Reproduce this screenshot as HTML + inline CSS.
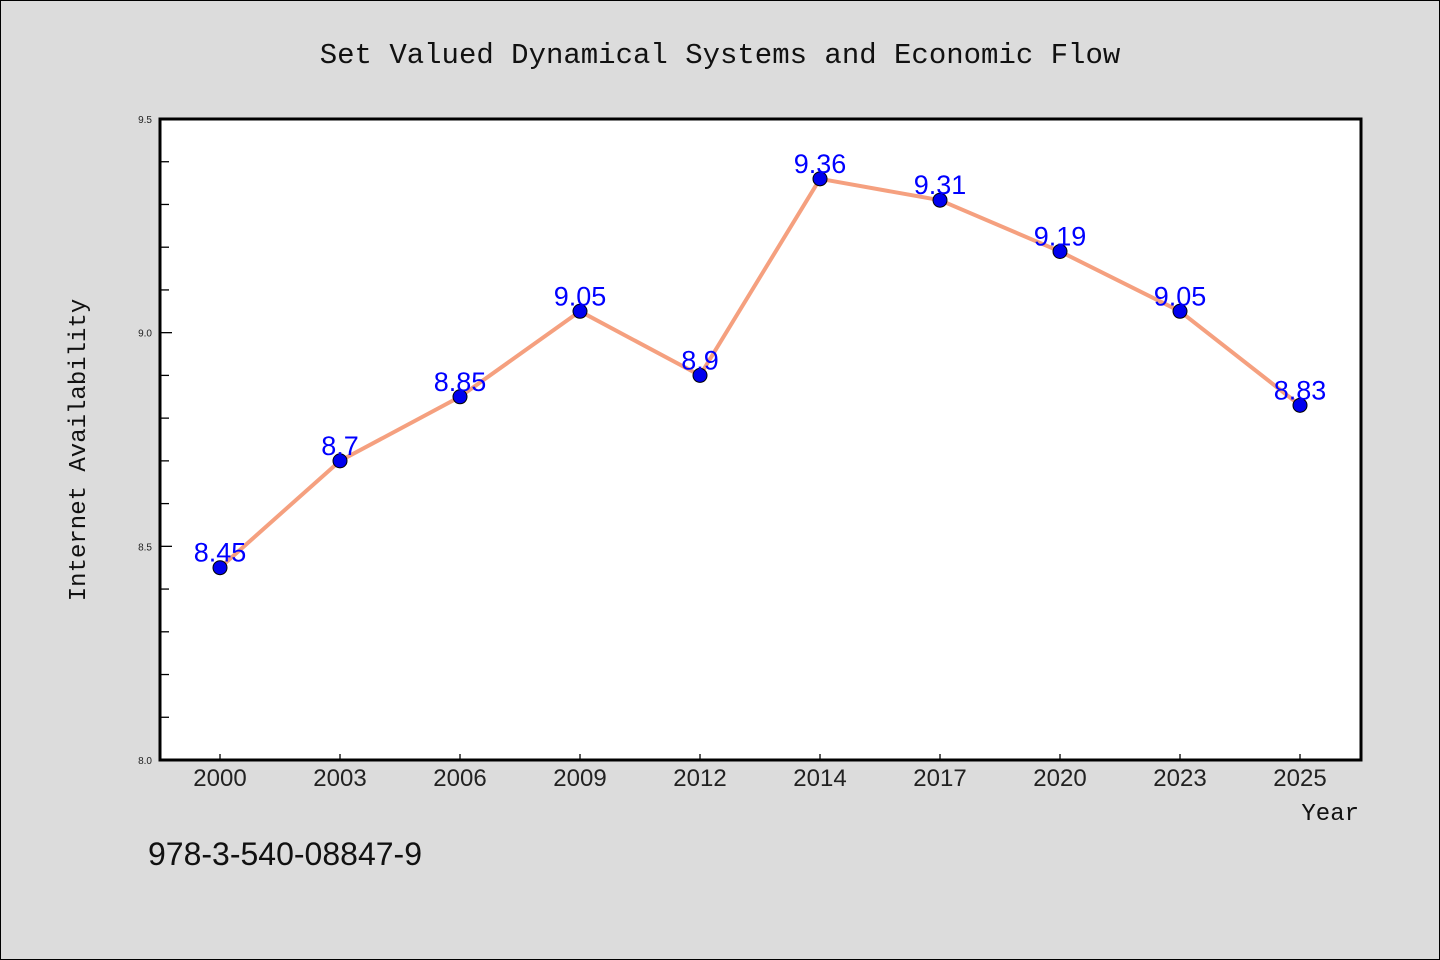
<!DOCTYPE html>
<html><head><meta charset="utf-8"><style>
html,body{margin:0;padding:0;background:#dcdcdc;}
svg{display:block;}
</style></head><body>
<svg width="1440" height="960" xmlns="http://www.w3.org/2000/svg">
<rect x="0.5" y="0.5" width="1439" height="959" fill="#dcdcdc" stroke="#000"/>
<text x="720" y="63" text-anchor="middle" font-family="'Liberation Mono','WenQuanYi Zen Hei',monospace" font-size="29" fill="#111">Set Valued Dynamical Systems and Economic Flow</text>
<rect x="160" y="119" width="1201" height="641" fill="#fff"/>
<g id="axes"></g>
<g id="series"></g>
<path d="M160,119 V760 H1361 V119 Z" fill="none" stroke="#000" stroke-width="3"/>
<text x="85" y="450" transform="rotate(-90 85 450)" text-anchor="middle" font-family="'Liberation Mono','WenQuanYi Zen Hei',monospace" font-size="24" fill="#111">Internet Availability</text>
<text x="1359" y="820" text-anchor="end" font-family="'Liberation Mono','WenQuanYi Zen Hei',monospace" font-size="24" fill="#111">Year</text>
<text x="148" y="865" font-family="'Liberation Sans',sans-serif" font-size="32" fill="#111">978-3-540-08847-9</text>
</svg>
<script>
const categories = ["2000","2003","2006","2009","2012","2014","2017","2020","2023","2025"];
const values = [8.45,8.7,8.85,9.05,8.9,9.36,9.31,9.19,9.05,8.83];
const labels = ["8.45","8.7","8.85","9.05","8.9","9.36","9.31","9.19","9.05","8.83"];
const yTicks = ["8.0","8.5","9.0","9.5"];
const NS="http://www.w3.org/2000/svg";
const L=160,R=1361,T=119,B=760,ymin=8.0,ymax=9.5;
const xs=i=>L+60+i*120;
const ys=v=>B-(v-ymin)/(ymax-ymin)*(B-T);
function mk(tag,attrs,parent){const e=document.createElementNS(NS,tag);for(const k in attrs)e.setAttribute(k,attrs[k]);parent.appendChild(e);return e;}
const ax=document.getElementById('axes'),se=document.getElementById('series');
for(let k=0;k<=15;k++){const v=ymin+k*0.1;const y=ys(v);const major=k%5===0;
 const t=mk('line',{x1:L,x2:L+(major?12:9),y1:y,y2:y,stroke:'#000','stroke-width':1.3},ax);
 
 }
yTicks.forEach(s=>{const t=mk('text',{x:152,y:ys(parseFloat(s))+4,'text-anchor':'end','font-family':"'Liberation Sans',sans-serif",'font-size':10,fill:'#222'},ax);t.textContent=s;
 
 });
categories.forEach((c,i)=>{const x=xs(i);
 const t=mk('line',{x1:x,x2:x,y1:B,y2:B-6,stroke:'#000','stroke-width':1.3},ax);
 
 
 const l=mk('text',{x:x,y:786,'text-anchor':'middle','font-family':"'Liberation Sans',sans-serif",'font-size':24,fill:'#222'},ax);l.textContent=c;
 
 });
const line=mk('polyline',{points:values.map((v,i)=>xs(i)+','+ys(v)).join(' '),fill:'none',stroke:'#f5a07f','stroke-width':4,'stroke-linejoin':'round'},se);


values.forEach((v,i)=>{
 const c=mk('circle',{cx:xs(i),cy:ys(v),r:7,fill:'#0000ee',stroke:'#000','stroke-width':1},se);
 
 
 const t=mk('text',{x:xs(i),y:ys(v)-6,'text-anchor':'middle','font-family':"'Liberation Sans',sans-serif",'font-size':27,fill:'#0000ff'},se);t.textContent=labels[i];
 
 });
</script>
</body></html>
